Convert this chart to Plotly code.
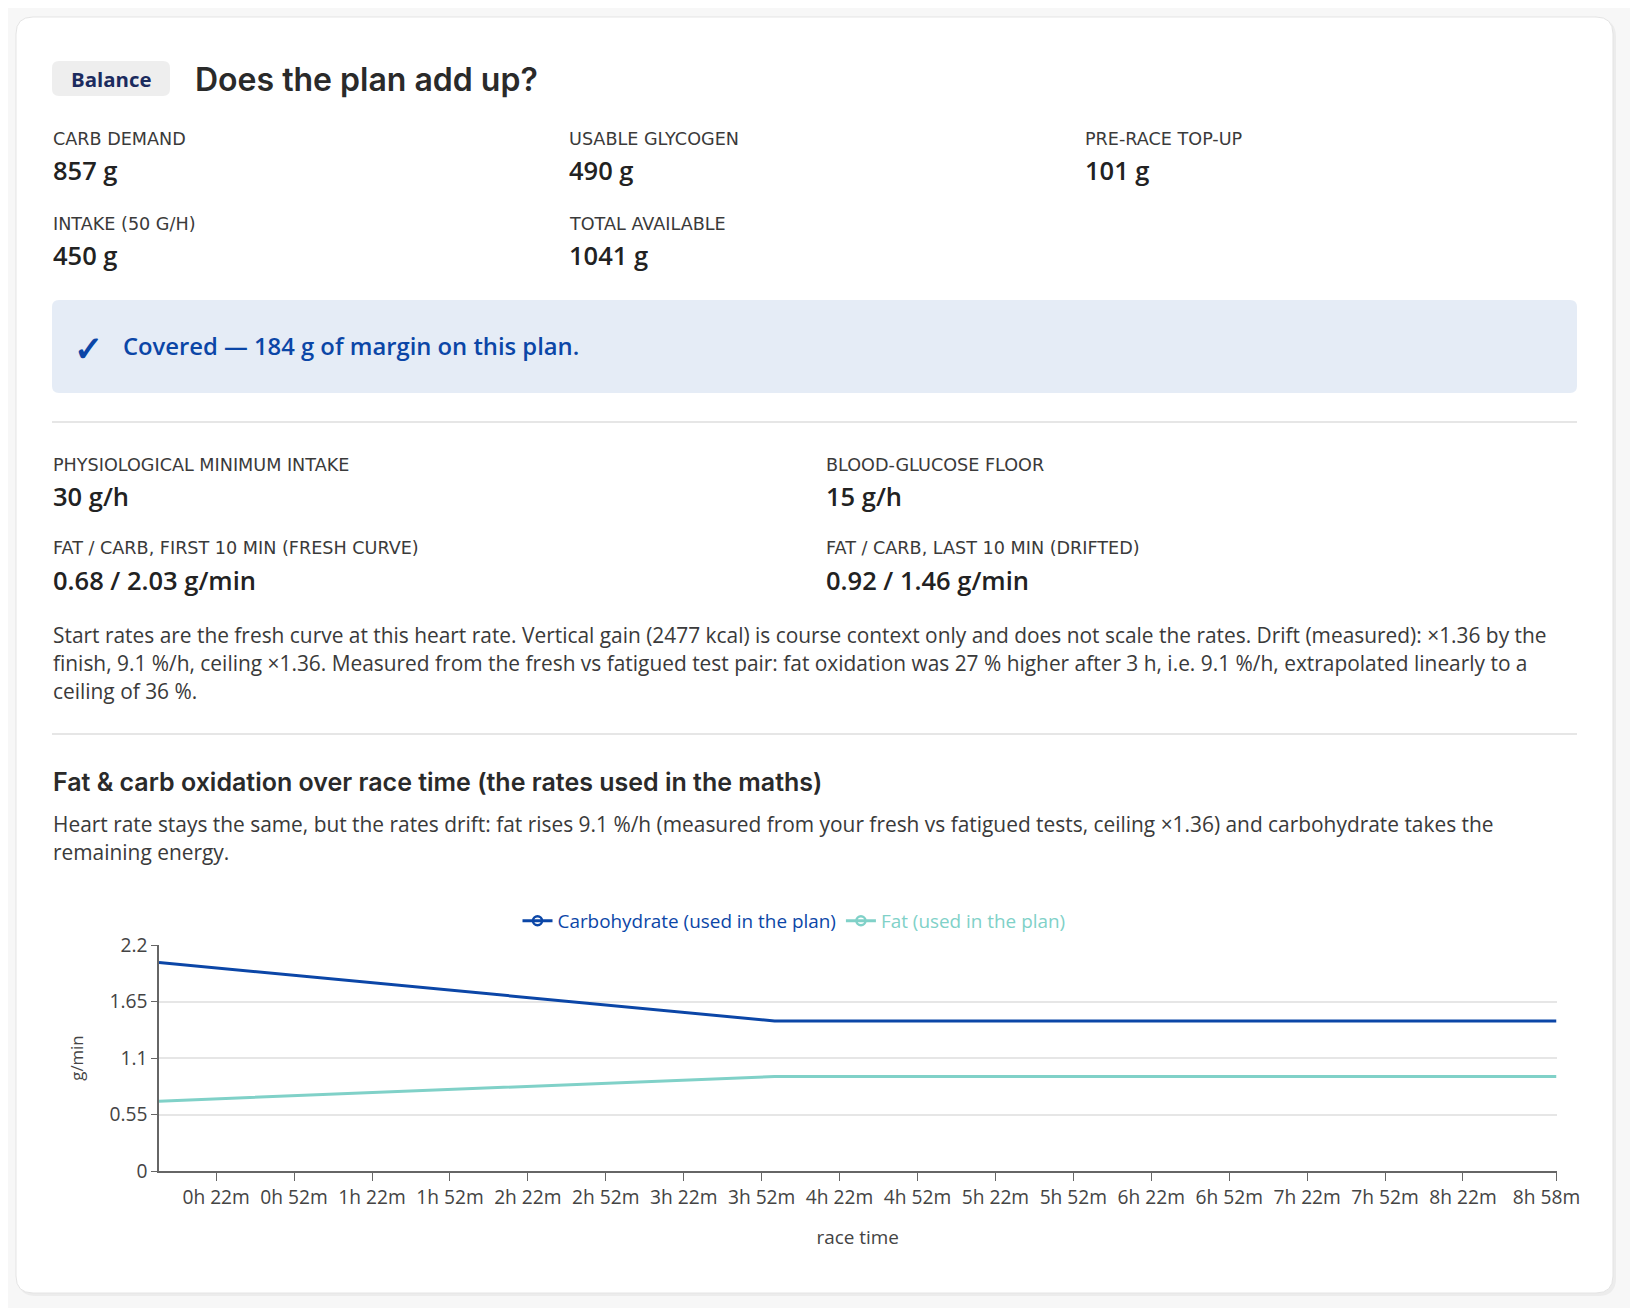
import plotly.graph_objects as go

# race-time series (minutes, g/min)
race_min = [0, 237, 538]
carb_rate = [2.03, 1.46, 1.46]
fat_rate = [0.68, 0.92, 0.92]

tick_min = [22, 52, 82, 112, 142, 172, 202, 232, 262, 292, 322, 352,
            382, 412, 442, 472, 502, 538]
tick_text = ["0h 22m", "0h 52m", "1h 22m", "1h 52m", "2h 22m", "2h 52m",
             "3h 22m", "3h 52m", "4h 22m", "4h 52m", "5h 22m", "5h 52m",
             "6h 22m", "6h 52m", "7h 22m", "7h 52m", "8h 22m",
             "8h 58m\u00a0\u00a0\u00a0\u00a0"]
y_ticks = [0, 0.55, 1.1, 1.65, 2.2]
y_tick_text = ["0", "0.55", "1.1", "1.65", "2.2"]

balance_labels = ["CARB DEMAND", "USABLE GLYCOGEN", "PRE-RACE TOP-UP",
                  "INTAKE (50 G/H)", "TOTAL AVAILABLE"]
balance_values = ["857 g", "490 g", "101 g", "450 g", "1041 g"]

physio_labels = ["PHYSIOLOGICAL MINIMUM INTAKE", "BLOOD-GLUCOSE FLOOR",
                 "FAT / CARB, FIRST 10 MIN (FRESH CURVE)",
                 "FAT / CARB, LAST 10 MIN (DRIFTED)"]
physio_values = ["30 g/h", "15 g/h", "0.68 / 2.03 g/min", "0.92 / 1.46 g/min"]

note_lines = [
    "Start rates are the fresh curve at this heart rate. Vertical gain (2477 kcal) is course context only and does not scale the rates. Drift (measured): ×1.36 by the",
    "finish, 9.1 %/h, ceiling ×1.36. Measured from the fresh vs fatigued test pair: fat oxidation was 27 % higher after 3 h, i.e. 9.1 %/h, extrapolated linearly to a",
    "ceiling of 36 %.",
]
chart_title = "Fat & carb oxidation over race time (the rates used in the maths)"
chart_desc = [
    "Heart rate stays the same, but the rates drift: fat rises 9.1 %/h (measured from your fresh vs fatigued tests, ceiling ×1.36) and carbohydrate takes the",
    "remaining energy.",
]
verdict = "Covered — 184 g of margin on this plan."

# positions are page pixels; the figure div sits inside the 8px body margin
OFF = 8
W, H = 1622, 1300
BODY = "'Open Sans', 'Noto Sans', sans-serif"
LABEL = "'DejaVu Sans', 'Open Sans', sans-serif"
HEAD = "Inter, 'Noto Sans', sans-serif"
CARB = "#0b46a7"
FAT = "#80d1c8"


def px(x):
    return (x - OFF) / W


def py(y):
    return 1 - (y - OFF) / H


def rrect(x0, y0, x1, y1, r):
    pts = [("M", x0 + r, y0), ("L", x1 - r, y0), ("Q", x1, y0, x1, y0 + r),
           ("L", x1, y1 - r), ("Q", x1, y1, x1 - r, y1), ("L", x0 + r, y1),
           ("Q", x0, y1, x0, y1 - r), ("L", x0, y0 + r), ("Q", x0, y0, x0 + r, y0)]
    out = []
    for p in pts:
        coords = p[1:]
        s = p[0]
        for i in range(0, len(coords), 2):
            s += " %.6f,%.6f" % (px(coords[i]), py(coords[i + 1]))
        out.append(s)
    return " ".join(out) + " Z"


shapes = [
    dict(type="path", path=rrect(18, 19, 1616, 1296, 18), xref="paper", yref="paper",
         fillcolor="#ececec", line=dict(width=0), layer="below"),
    dict(type="path", path=rrect(16, 17, 1613, 1293, 17), xref="paper", yref="paper",
         fillcolor="white", line=dict(color="#e4e4e4", width=1), layer="below"),
    dict(type="path", path=rrect(52, 61, 170, 96, 7), xref="paper", yref="paper",
         fillcolor="#eeeeee", line=dict(width=0), layer="below"),
    dict(type="path", path=rrect(52, 300, 1577, 393, 7), xref="paper", yref="paper",
         fillcolor="#e5ecf6", line=dict(width=0), layer="below"),
    dict(type="line", xref="paper", yref="paper", x0=px(52), x1=px(1577),
         y0=py(422), y1=py(422), line=dict(color="#dedede", width=1.5), layer="below"),
    dict(type="line", xref="paper", yref="paper", x0=px(52), x1=px(1577),
         y0=py(734), y1=py(734), line=dict(color="#dedede", width=1.5), layer="below"),
]

ann = []


def text(x, y, s, size, color, family=BODY, weight=400, anchor="left"):
    ann.append(dict(x=px(x), y=py(y), xref="paper", yref="paper", text=s,
                    showarrow=False, xanchor=anchor, yanchor="middle",
                    font=dict(family=family, size=size, color=color, weight=weight)))


text(111, 79, "Balance", 20.4, "#1b2b5e", weight=700, anchor="center")
text(193, 79, "Does the plan add up?", 32, "#2a2a2a", family=HEAD, weight=600)

cols = [51, 567, 1083, 51, 567]
rows = [0, 0, 0, 1, 1]
for lab, val, cx, r in zip(balance_labels, balance_values, cols, rows):
    text(cx, 138.5 + r * 85, lab, 17.6, "#3a3a3a", family=LABEL)
    text(cx, 169.5 + r * 85, val, 25.5, "#222222", weight=600)

text(88, 347, "✓", 34.5, CARB, weight=700, anchor="center")
text(121, 346, verdict, 23.8, CARB, weight=600)

cols2 = [51, 824, 51, 824]
rows2 = [0, 0, 1, 1]
for lab, val, cx, r in zip(physio_labels, physio_values, cols2, rows2):
    text(cx, 464.5 + r * 83, lab, 17.6, "#3a3a3a", family=LABEL)
    text(cx, 496 + r * 84, val, 25.5, "#222222", weight=600)

for i, line in enumerate(note_lines):
    text(51, 635 + i * 28.2, line, 20.9, "#3a3a3a")

text(51, 782.5, chart_title, 25, "#2a2a2a", family=HEAD, weight=600)
for i, line in enumerate(chart_desc):
    text(51, 824 + i * 28.2, line, 20.9, "#3a3a3a")

fig = go.Figure()
fig.add_trace(go.Scatter(x=race_min, y=carb_rate, mode="lines", showlegend=False,
                         line=dict(color=CARB, width=3), hoverinfo="x+y"))
fig.add_trace(go.Scatter(x=race_min, y=fat_rate, mode="lines", showlegend=False,
                         line=dict(color=FAT, width=3), hoverinfo="x+y"))
# legend entries with the hollow-dot glyph
fig.add_trace(go.Scatter(x=[None], y=[None], mode="lines+markers",
                         name='<span style="color:%s">Carbohydrate (used in the plan)</span>' % CARB,
                         line=dict(color=CARB, width=3),
                         marker=dict(symbol="circle-open", size=9, color=CARB, line=dict(width=2.5))))
fig.add_trace(go.Scatter(x=[None], y=[None], mode="lines+markers",
                         name='<span style="color:%s">Fat (used in the plan)</span>' % FAT,
                         line=dict(color=FAT, width=3),
                         marker=dict(symbol="circle-open", size=9, color=FAT, line=dict(width=2.5))))

tick_font = dict(family=BODY, size=19.2, color="#444444")
fig.update_layout(
    width=W, height=H,
    margin=dict(l=0, r=0, t=0, b=0, autoexpand=False),
    paper_bgcolor="#f7f7f7",
    plot_bgcolor="white",
    font=dict(family=BODY, size=18, color="#444444"),
    shapes=shapes,
    annotations=ann,
    showlegend=True,
    legend=dict(orientation="h", x=px(794), y=py(921), xanchor="center", yanchor="middle",
                font=dict(family=BODY, size=18.9), itemwidth=30, bgcolor="rgba(0,0,0,0)"),
    xaxis=dict(domain=[px(159), px(1556.5)], range=[0, 538], tickmode="array",
               tickvals=tick_min, ticktext=tick_text, showgrid=False, zeroline=False,
               automargin=False,
               showline=True, linecolor="#666666", linewidth=1.5, ticks="outside",
               ticklen=8, tickcolor="#666666", tickfont=tick_font,
               title=dict(text="race time", standoff=22,
                          font=dict(family=BODY, size=18.9, color="#444444"))),
    yaxis=dict(domain=[py(1171), py(945)], range=[0, 2.2], tickmode="array",
               tickvals=y_ticks, ticktext=y_tick_text, automargin=False,
               showgrid=True, gridcolor="#e6e6e6", gridwidth=1.5, zeroline=False,
               showline=True, linecolor="#666666", linewidth=1.5, ticks="outside",
               ticklen=6, tickcolor="#666666", tickfont=tick_font,
               title=dict(text="g/min", standoff=22,
                          font=dict(family=BODY, size=16.8, color="#444444"))),
)

fig.write_html("out.html")
